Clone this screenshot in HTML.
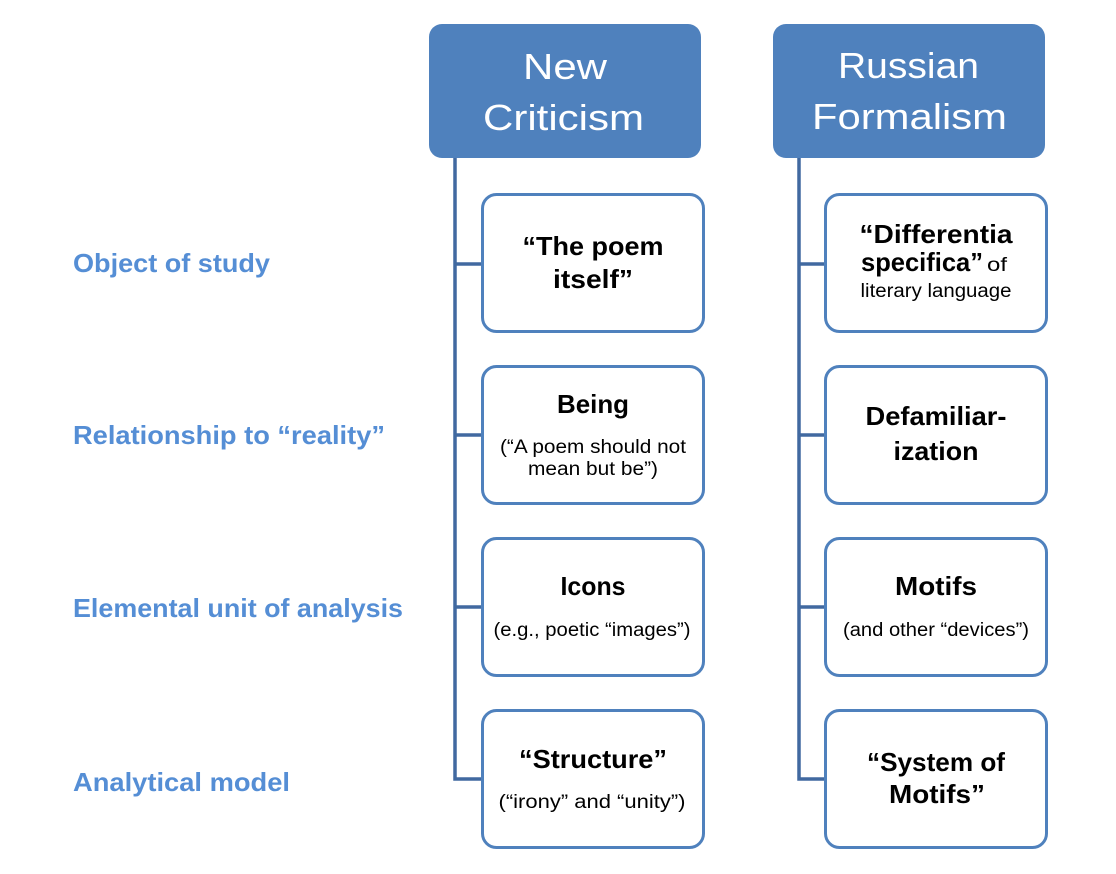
<!DOCTYPE html>
<html>
<head>
<meta charset="utf-8">
<style>
  html,body{margin:0;padding:0;background:#fff;}
  svg{display:block;}
  text{font-family:"Liberation Sans",Arial,sans-serif;}
  .lab{font-size:26px;font-weight:bold;fill:#558ed5;}
  .hd{font-size:36px;fill:#ffffff;}
  .b{font-size:26px;font-weight:bold;fill:#000;}
  .s{font-size:19px;fill:#000;}
</style>
</head>
<body>
<svg width="1116" height="874" viewBox="0 0 1116 874" xmlns="http://www.w3.org/2000/svg">
  <rect x="0" y="0" width="1116" height="874" fill="#ffffff"/>

  <!-- connectors -->
  <g stroke="#4169a0" stroke-width="3.5" fill="none">
    <polyline points="455,157 455,779 482,779"/>
    <line x1="455" y1="264" x2="482" y2="264"/>
    <line x1="455" y1="435" x2="482" y2="435"/>
    <line x1="455" y1="607" x2="482" y2="607"/>
    <polyline points="799,157 799,779 825,779"/>
    <line x1="799" y1="264" x2="825" y2="264"/>
    <line x1="799" y1="435" x2="825" y2="435"/>
    <line x1="799" y1="607" x2="825" y2="607"/>
  </g>

  <!-- header boxes -->
  <rect x="429" y="24" width="272" height="134" rx="13" fill="#4f81bd"/>
  <rect x="773" y="24" width="272" height="134" rx="13" fill="#4f81bd"/>
  <text class="hd" x="523" y="79" textLength="84" lengthAdjust="spacingAndGlyphs">New</text>
  <text class="hd" x="483" y="130" textLength="161" lengthAdjust="spacingAndGlyphs">Criticism</text>
  <text class="hd" x="838" y="78" textLength="141" lengthAdjust="spacingAndGlyphs">Russian</text>
  <text class="hd" x="812" y="129" textLength="195" lengthAdjust="spacingAndGlyphs">Formalism</text>

  <!-- child boxes -->
  <g fill="#ffffff" stroke="#4f81bd" stroke-width="3">
    <rect x="482.5" y="194.5" width="221" height="137" rx="14"/>
    <rect x="482.5" y="366.5" width="221" height="137" rx="14"/>
    <rect x="482.5" y="538.5" width="221" height="137" rx="14"/>
    <rect x="482.5" y="710.5" width="221" height="137" rx="14"/>
    <rect x="825.5" y="194.5" width="221" height="137" rx="14"/>
    <rect x="825.5" y="366.5" width="221" height="137" rx="14"/>
    <rect x="825.5" y="538.5" width="221" height="137" rx="14"/>
    <rect x="825.5" y="710.5" width="221" height="137" rx="14"/>
  </g>

  <!-- row labels -->
  <text class="lab" x="73" y="272" textLength="197" lengthAdjust="spacingAndGlyphs">Object of study</text>
  <text class="lab" x="73" y="444" textLength="312" lengthAdjust="spacingAndGlyphs">Relationship to “reality”</text>
  <text class="lab" x="73" y="617" textLength="330" lengthAdjust="spacingAndGlyphs">Elemental unit of analysis</text>
  <text class="lab" x="73" y="791" textLength="217" lengthAdjust="spacingAndGlyphs">Analytical model</text>

  <!-- New Criticism children -->
  <g text-anchor="middle">
  <text class="b" x="593" y="255" textLength="141" lengthAdjust="spacingAndGlyphs">“The poem</text>
  <text class="b" x="593" y="288" textLength="80" lengthAdjust="spacingAndGlyphs">itself”</text>

  <text class="b" x="593" y="413" textLength="72" lengthAdjust="spacingAndGlyphs">Being</text>
  <text class="s" x="593" y="453" textLength="186" lengthAdjust="spacingAndGlyphs">(“A poem should not</text>
  <text class="s" x="593" y="475" textLength="130" lengthAdjust="spacingAndGlyphs">mean but be”)</text>

  <text class="b" x="593" y="595" textLength="65" lengthAdjust="spacingAndGlyphs">Icons</text>
  <text class="s" x="592" y="636" textLength="197" lengthAdjust="spacingAndGlyphs">(e.g., poetic “images”)</text>

  <text class="b" x="593" y="768" textLength="148" lengthAdjust="spacingAndGlyphs">“Structure”</text>
  <text class="s" x="592" y="808" textLength="187" lengthAdjust="spacingAndGlyphs">(“irony” and “unity”)</text>

  <!-- Russian Formalism children -->
  <text class="b" x="936" y="243" textLength="153" lengthAdjust="spacingAndGlyphs">“Differentia</text>
  <text class="s" x="936" y="297" textLength="151" lengthAdjust="spacingAndGlyphs">literary language</text>

  <text class="b" x="936" y="425" textLength="141" lengthAdjust="spacingAndGlyphs">Defamiliar-</text>
  <text class="b" x="936" y="460" textLength="85" lengthAdjust="spacingAndGlyphs">ization</text>

  <text class="b" x="936" y="595" textLength="82" lengthAdjust="spacingAndGlyphs">Motifs</text>
  <text class="s" x="936" y="636" textLength="186" lengthAdjust="spacingAndGlyphs">(and other “devices”)</text>

  <text class="b" x="936" y="771" textLength="138" lengthAdjust="spacingAndGlyphs">“System of</text>
  <text class="b" x="937" y="803" textLength="96" lengthAdjust="spacingAndGlyphs">Motifs”</text>
  </g>
  <text class="b" x="861" y="271" textLength="122" lengthAdjust="spacingAndGlyphs">specifica”</text>
  <text class="s" x="987" y="271" textLength="20" lengthAdjust="spacingAndGlyphs">of</text>
</svg>
</body>
</html>
